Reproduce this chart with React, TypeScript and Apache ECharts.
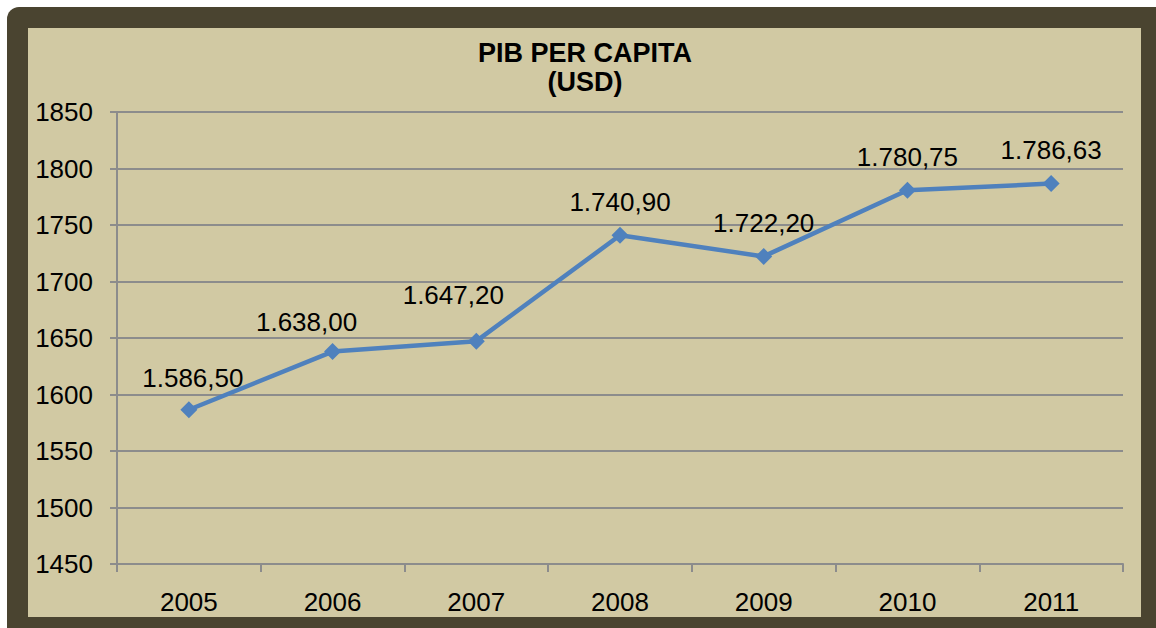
import React, { useEffect, useRef } from "react";
import * as echarts from "echarts";

const years = ["2005", "2006", "2007", "2008", "2009", "2010", "2011"];
const pib = [1586.5, 1638.0, 1647.2, 1740.9, 1722.2, 1780.75, 1786.63];
const pibLabels = ["1.586,50", "1.638,00", "1.647,20", "1.740,90", "1.722,20", "1.780,75", "1.786,63"];

const FONT = "Liberation Sans, Arial, sans-serif";

export default function App() {
  const ref = useRef<HTMLDivElement>(null);
  useEffect(() => {
    const chart = echarts.init(ref.current!, null, { renderer: "svg" });
    // label nudges (style only) to mimic the reference's manual label placement
    const nudge: Record<number, [number, number]> = { 0: [4, 2], 1: [-26, 4], 2: [-23, -13] };
    const seriesData = pib.map((v, i) => ({
      value: v,
      label: nudge[i] ? { offset: nudge[i] } : undefined,
    }));
    chart.setOption({
      animation: false,
      backgroundColor: "#ffffff",
      graphic: [
        {
          type: "rect",
          z: -10,
          silent: true,
          shape: { x: 7, y: 7, width: 1160, height: 640, r: [12, 0, 0, 0] },
          style: { fill: "#4a4430" },
        },
        {
          type: "rect",
          z: -9,
          silent: true,
          shape: { x: 28, y: 28, width: 1113, height: 589 },
          style: { fill: "#d1c9a3" },
        },
      ],
      title: {
        text: "PIB PER CAPITA\n(USD)",
        left: 580,
        top: 33,
        textAlign: "center",
        textStyle: {
          fontFamily: FONT,
          fontSize: 27,
          fontWeight: "bold",
          color: "#000",
          lineHeight: 29,
        },
      },
      grid: { left: 117, right: 33, top: 112, bottom: 64 },
      xAxis: {
        type: "category",
        data: years,
        boundaryGap: true,
        axisLine: { show: true, lineStyle: { color: "#8c8c8c", width: 2 } },
        axisTick: { show: true, length: 8, lineStyle: { color: "#8c8c8c", width: 2 } },
        axisLabel: {
          margin: 25,
          fontFamily: FONT,
          fontSize: 26,
          color: "#000",
        },
        splitLine: { show: false },
      },
      yAxis: {
        type: "value",
        min: 1450,
        max: 1850,
        interval: 50,
        axisLine: { show: true, lineStyle: { color: "#8c8c8c", width: 2 } },
        axisTick: { show: true, length: 7, lineStyle: { color: "#8c8c8c", width: 2 } },
        axisLabel: {
          margin: 24,
          fontFamily: FONT,
          fontSize: 26,
          color: "#000",
          formatter: (v: number) => String(v),
        },
        splitLine: { show: true, lineStyle: { color: "#8c8c8c", width: 2 } },
      },
      series: [
        {
          type: "line",
          data: seriesData,
          symbol: "diamond",
          symbolSize: 17,
          lineStyle: { color: "#4f81bd", width: 4.5 },
          itemStyle: { color: "#4f81bd" },
          label: {
            show: true,
            position: "top",
            distance: 12,
            fontFamily: FONT,
            fontSize: 26,
            color: "#000",
            formatter: (p: any) => pibLabels[p.dataIndex],
          },
        },
      ],
    });
    return () => chart.dispose();
  }, []);
  return (
    <div
      ref={ref}
      style={{ position: "fixed", left: 0, top: 0, width: 1156, height: 628 }}
    />
  );
}
